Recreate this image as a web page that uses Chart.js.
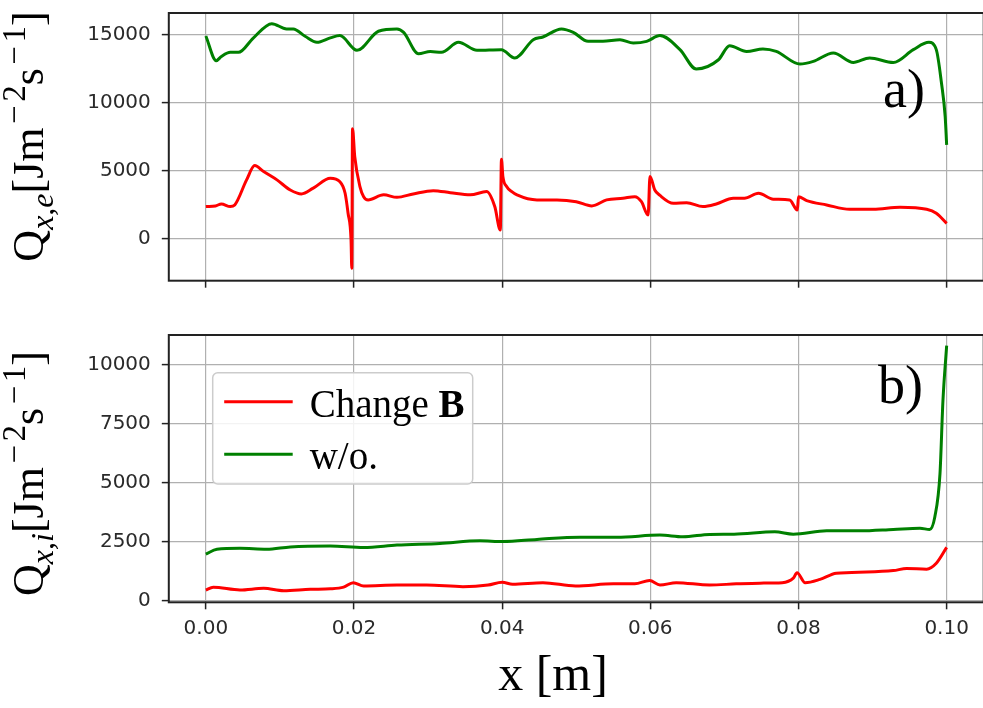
<!DOCTYPE html>
<html>
<head>
<meta charset="utf-8">
<script src="https://cdn.jsdelivr.net/npm/chart.js@4.4.0/dist/chart.umd.min.js"></script>
<style>
    html, body { margin: 0; padding: 0; background: #fff; overflow: hidden; }
    canvas { position: absolute; left: 0; }
    #topChart { top: 0; }
    #bottomChart { top: 300px; }
</style>
</head>
<body>
<canvas id="topChart" width="990" height="300"></canvas>
<canvas id="bottomChart" width="990" height="408"></canvas>
<script>
// panel a) electron heat flux
const topChangeX = [0, 0.0013, 0.0021, 0.0033, 0.0039, 0.0055, 0.0066, 0.0078, 0.0096, 0.0114, 0.0129, 0.0145, 0.0168, 0.0181, 0.0188, 0.0192, 0.0196, 0.0197, 0.0198, 0.0201, 0.0208, 0.0213, 0.0219, 0.024, 0.0258, 0.028, 0.0307, 0.033, 0.0357, 0.0379, 0.039, 0.03975, 0.0399, 0.0401, 0.0406, 0.0413, 0.042, 0.0447, 0.0474, 0.05, 0.0521, 0.0541, 0.0563, 0.0579, 0.0588, 0.0597, 0.05995, 0.0606, 0.0613, 0.0631, 0.0649, 0.0671, 0.0689, 0.0712, 0.0727, 0.0746, 0.0766, 0.0788, 0.07985, 0.08, 0.0811, 0.0838, 0.0869, 0.0901, 0.0937, 0.0973, 0.0986, 0.1];
const topChangeY = [2380, 2430, 2570, 2380, 2500, 4340, 5390, 4950, 4340, 3600, 3310, 3730, 4460, 4210, 3360, 1890, -70, -2150, 8100, 6050, 3850, 3110, 2870, 3240, 3060, 3310, 3550, 3400, 3240, 3480, 2380, 660, 5860, 4580, 3850, 3480, 3240, 2870, 2870, 2740, 2430, 2870, 2990, 3110, 2740, 1760, 4580, 3600, 3200, 2620, 2670, 2380, 2570, 2990, 2990, 3360, 2920, 2870, 2130, 3110, 2820, 2500, 2180, 2180, 2330, 2180, 1890, 1150];
const topWithoutX = [0, 0.0014, 0.0021, 0.0033, 0.0044, 0.0064, 0.0089, 0.0109, 0.0118, 0.0134, 0.015, 0.0168, 0.0181, 0.0204, 0.0233, 0.0258, 0.0267, 0.0287, 0.0303, 0.0318, 0.0341, 0.0366, 0.0399, 0.0417, 0.0442, 0.0455, 0.048, 0.0496, 0.0516, 0.0536, 0.0559, 0.0577, 0.0595, 0.0613, 0.064, 0.0662, 0.0692, 0.0707, 0.073, 0.0752, 0.077, 0.0802, 0.082, 0.0847, 0.0874, 0.0896, 0.0928, 0.0955, 0.0976, 0.0986, 0.0993, 0.0998, 0.1];
const topWithoutY = [14900, 13090, 13400, 13700, 13700, 14750, 15810, 15420, 15420, 14880, 14440, 14760, 14930, 13850, 15250, 15420, 15170, 13600, 13770, 13700, 14440, 13850, 13900, 13290, 14630, 14830, 15420, 15170, 14510, 14510, 14630, 14390, 14510, 14930, 13900, 12480, 13160, 14190, 13770, 13950, 13770, 12840, 13040, 13650, 12960, 13290, 12960, 13900, 14440, 13900, 11450, 8990, 6910];

// panel b) ion heat flux
const bottomChangeX = [0, 0.001, 0.0046, 0.0078, 0.0105, 0.0141, 0.0168, 0.0186, 0.0199, 0.0213, 0.0258, 0.0298, 0.0347, 0.0381, 0.04, 0.0414, 0.0455, 0.0499, 0.055, 0.0579, 0.0599, 0.0613, 0.0635, 0.068, 0.0716, 0.0748, 0.0778, 0.0793, 0.0798, 0.0809, 0.0829, 0.0851, 0.0892, 0.0928, 0.0946, 0.0973, 0.0986, 0.1];
const bottomChangeY = [460, 580, 460, 530, 430, 490, 510, 580, 770, 630, 670, 670, 600, 670, 790, 700, 770, 630, 720, 720, 860, 670, 770, 670, 720, 750, 770, 960, 1190, 770, 910, 1170, 1220, 1280, 1370, 1340, 1590, 2260];
const bottomWithoutX = [0, 0.0015, 0.0046, 0.0082, 0.0114, 0.0168, 0.0213, 0.0258, 0.0316, 0.037, 0.0401, 0.0447, 0.0505, 0.0555, 0.0613, 0.0644, 0.068, 0.0713, 0.0768, 0.0793, 0.0838, 0.0883, 0.0928, 0.0964, 0.0977, 0.0984, 0.0991, 0.0995, 0.1];
const bottomWithoutY = [1980, 2180, 2220, 2180, 2280, 2320, 2260, 2360, 2430, 2540, 2510, 2600, 2690, 2690, 2780, 2710, 2810, 2820, 2920, 2820, 2960, 2960, 3020, 3070, 3020, 3550, 5380, 8470, 10790];

const xTicks = [0, 0.02, 0.04, 0.06, 0.08, 0.10];
const topYTicks = [0, 5000, 10000, 15000];
const bottomYTicks = [0, 2500, 5000, 7500, 10000];
const seriesNames = ['Change B', 'w/o.'];
const seriesColors = ['#ff0000', '#008000'];

const SERIF = '"Liberation Serif", "Times New Roman", serif';

const toPoints = (xs, ys) => xs.map((x, i) => ({ x: x, y: ys[i] }));

const fontFor = (p, size) =>
    `${p.it ? 'italic ' : ''}${p.b ? 'bold ' : ''}${Math.round(size * (p.s || 1))}px ${SERIF}`;

// draws a run of text pieces (sub/superscripts, bold) starting at x
const drawPieces = (ctx, parts, size, x, y) => {
    parts.forEach(p => {
        ctx.font = fontFor(p, size);
        x += (p.g || 0) * size;
        ctx.fillText(p.t, x, y + (p.dy || 0) * size);
        x += ctx.measureText(p.t).width + (p.ga || 0) * size;
    });
    return x;
};

const piecesWidth = (ctx, parts, size) => parts.reduce((w, p) => {
    ctx.font = fontFor(p, size);
    return w + ctx.measureText(p.t).width + ((p.g || 0) + (p.ga || 0)) * size;
}, 0);

const yTitle = (sub) => [
    { t: 'Q' },
    { t: 'x,' + sub, s: 0.72, dy: 0.22, it: true },
    { t: '[Jm' },
    { t: '\u2212', s: 0.75, dy: -0.42, g: 0.08, ga: 0.08 },
    { t: '2', s: 0.75, dy: -0.42 },
    { t: 's' },
    { t: '\u2212', s: 0.75, dy: -0.42, g: 0.08, ga: 0.08 },
    { t: '1', s: 0.75, dy: -0.42 },
    { t: ']' }
];

const panelDecor = {
    id: 'panelDecor',
    afterDraw(chart, args, opts) {
        const ctx = chart.ctx;
        const area = chart.chartArea;
        ctx.save();

        // axes frame
        ctx.strokeStyle = '#222';
        ctx.lineWidth = 2;
        ctx.strokeRect(area.left, area.top, area.right - area.left, area.bottom - area.top);

        ctx.fillStyle = '#000';
        ctx.textBaseline = 'alphabetic';
        ctx.textAlign = 'left';

        // rotated y title
        const size = opts.yTitleSize;
        const w = piecesWidth(ctx, opts.yTitle, size);
        ctx.save();
        ctx.translate(opts.yTitleX, opts.yTitleY);
        ctx.rotate(-Math.PI / 2);
        drawPieces(ctx, opts.yTitle, size, -w / 2, 0);
        ctx.restore();

        // panel letter
        ctx.font = `54px ${SERIF}`;
        ctx.fillText(opts.letter, opts.letterX, opts.letterY);

        if (opts.xTitle) {
            ctx.font = `50px ${SERIF}`;
            ctx.textAlign = 'center';
            ctx.fillText(opts.xTitle, opts.xTitleX, opts.xTitleY);
            ctx.textAlign = 'left';
        }

        if (opts.legend) {
            const lg = opts.legend;
            ctx.beginPath();
            ctx.roundRect(lg.x, lg.y, lg.w, lg.h, 5);
            ctx.fillStyle = 'rgba(255,255,255,0.85)';
            ctx.fill();
            ctx.strokeStyle = '#cccccc';
            ctx.lineWidth = 1.5;
            ctx.stroke();

            chart.data.datasets.forEach((ds, i) => {
                const ly = lg.y + 29 + i * 52.6;
                ctx.beginPath();
                ctx.moveTo(lg.x + 11.5, ly);
                ctx.lineTo(lg.x + 80, ly);
                ctx.strokeStyle = ds.borderColor;
                ctx.lineWidth = 3;
                ctx.stroke();
                ctx.fillStyle = '#000';
                const words = ds.label.split(' ');
                const parts = words.length > 1
                    ? [{ t: words.slice(0, -1).join(' ') + ' ' }, { t: words[words.length - 1], b: true }]
                    : [{ t: ds.label }];
                drawPieces(ctx, parts, 38.5, lg.x + 97, ly + 15);
            });
        }
        ctx.restore();
    }
};

const makePanel = (canvas, cfg) => {
    return new Chart(canvas, {
        type: 'line',
        data: {
            datasets: cfg.series.map((s, i) => ({
                label: seriesNames[i],
                data: s,
                borderColor: seriesColors[i],
                borderWidth: 3,
                pointRadius: 0,
                fill: false,
                cubicInterpolationMode: 'monotone'
            }))
        },
        options: {
            responsive: false,
            animation: false,
            layout: {
                padding: { left: 48.8, right: 6.3, top: cfg.top, bottom: 0 }
            },
            scales: {
                x: {
                    type: 'linear',
                    min: -0.005,
                    max: 0.105,
                    afterBuildTicks: s => { s.ticks = xTicks.map(v => ({ value: v })); },
                    afterFit: s => { s.height = cfg.xHeight; s.paddingLeft = 0; s.paddingRight = 0; },
                    border: { display: false },
                    grid: { color: '#b0b0b0', lineWidth: 1.2, tickLength: 7, tickColor: '#222', tickWidth: 1.5 },
                    ticks: {
                        display: cfg.showX,
                        maxRotation: 0,
                        padding: 7,
                        color: '#2a2a2a',
                        font: { family: 'DejaVu Sans', size: 20 },
                        callback: v => Number(v).toFixed(2)
                    }
                },
                y: {
                    min: cfg.yMin,
                    max: cfg.yMax,
                    afterBuildTicks: s => { s.ticks = cfg.yTicks.map(v => ({ value: v })); },
                    afterFit: s => { s.width = 120; s.paddingTop = 0; s.paddingBottom = 0; },
                    border: { display: false },
                    grid: { color: '#b0b0b0', lineWidth: 1.2, tickLength: 7, tickColor: '#222', tickWidth: 1.5 },
                    ticks: {
                        padding: 11,
                        color: '#2a2a2a',
                        font: { family: 'DejaVu Sans', size: 20 },
                        callback: v => String(v)
                    }
                }
            },
            plugins: {
                legend: { display: false },
                tooltip: { enabled: false },
                panelDecor: cfg.decor
            }
        },
        plugins: [panelDecor]
    });
};

document.addEventListener('DOMContentLoaded', () => {
    makePanel(document.getElementById('topChart'), {
        series: [toPoints(topChangeX, topChangeY), toPoints(topWithoutX, topWithoutY)],
        yMin: -3060,
        yMax: 16590,
        yTicks: topYTicks,
        top: 13,
        xHeight: 19.3,
        showX: false,
        decor: {
            yTitle: yTitle('e'), yTitleSize: 44, yTitleX: 43, yTitleY: 136.5,
            letter: 'a)', letterX: 883, letterY: 107
        }
    });

    makePanel(document.getElementById('bottomChart'), {
        series: [toPoints(bottomChangeX, bottomChangeY), toPoints(bottomWithoutX, bottomWithoutY)],
        yMin: -60,
        yMax: 11240,
        yTicks: bottomYTicks,
        top: 35,
        xHeight: 105.7,
        showX: true,
        decor: {
            yTitle: yTitle('i'), yTitleSize: 44, yTitleX: 43, yTitleY: 173.5,
            letter: 'b)', letterX: 878, letterY: 103,
            xTitle: 'x [m]', xTitleX: 553, xTitleY: 390,
            legend: { x: 212.7, y: 72.7, w: 260, h: 111.3 }
        }
    });
});
</script>
</body>
</html>
